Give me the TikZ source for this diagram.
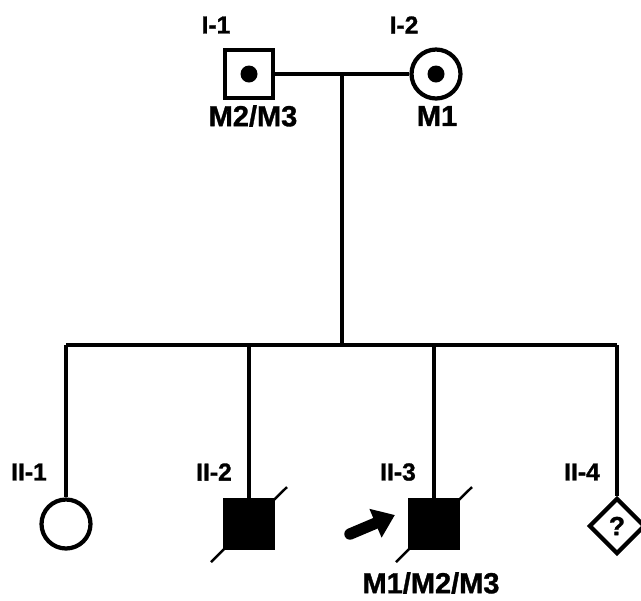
\documentclass[tikz,border=0pt]{standalone}
\usepackage{fontspec}
\setmainfont{Liberation Sans}[BoldFeatures={FakeBold=1.2}]
\usetikzlibrary{arrows.meta, positioning, calc, shapes.geometric}

\tikzset{
  line/.style={line width=2.4pt},
  male/.style={draw, line width=2.4pt, rectangle, minimum size=0.96cm, inner sep=0pt},
  female/.style={draw, line width=2.4pt, circle, minimum size=0.98cm, inner sep=0pt},
  unknownsex/.style={draw, line width=2.4pt, diamond, minimum size=1.12cm, inner sep=0pt, font=\bfseries\fontsize{15}{15}\selectfont},
  affected/.style={fill=black},
  carrierdot/.style={fill=black, circle, minimum size=0.34cm, inner sep=0pt},
  slash/.style={line width=1.4pt},
  idlabel/.style={font=\bfseries\fontsize{14}{14}\selectfont, inner sep=0pt},
  varlabel/.style={font=\bfseries\fontsize{16.5}{16.5}\selectfont, inner sep=0pt}
}

\begin{document}
\begin{tikzpicture}[x=0.02cm, y=-0.02cm]
  \useasboundingbox (0,0) rectangle (641,600);

  % generation I
  \node[male] (i1) at (249,74) {};
  \node[female] (i2) at (436,74) {};
  \node[carrierdot] (i1dot) at (i1.center) {};
  \node[carrierdot] (i2dot) at (i2.center) {};
  \node[idlabel] (i1lab) at (216,25) {I-1};
  \node[idlabel] (i2lab) at (404,25) {I-2};
  \node[varlabel] (i1var) at (253,116) {M2/M3};
  \node[varlabel] (i2var) at (437,116) {M1};

  \draw[line] (i1.east) -- (i2.west);
  \coordinate (mate) at (342,74);
  \coordinate (sib) at (342,345);
  \draw[line] (mate) -- (sib);

  % generation II
  \node[female] (ii1) at (66,524) {};
  \node[male, affected] (ii2) at (249,524) {};
  \node[male, affected] (ii3) at (434,524) {};
  \node[unknownsex] (ii4) at (617,526) {?};
  \node[idlabel] (ii1lab) at (29,472) {II-1};
  \node[idlabel] (ii2lab) at (214,472) {II-2};
  \node[idlabel] (ii3lab) at (398,472) {II-3};
  \node[idlabel] (ii4lab) at (582,472) {II-4};
  \node[varlabel] (ii3var) at (431,583) {M1/M2/M3};

  % sibship line
  \coordinate (sibl) at (ii1.north |- sib);
  \coordinate (sibr) at (ii4.north |- sib);
  \draw[line] (sibl) -- (sibr);
  \foreach \c in {ii1,ii2,ii3,ii4}
    \draw[line] (\c.north |- sib) -- (\c.north);

  % deceased
  \foreach \c in {ii2,ii3}
    \draw[slash] ([shift={(-38,38)}]\c.center) -- ([shift={(38,-37)}]\c.center);

  % proband
  \coordinate (probtail) at (350,534);
  \coordinate (probhead) at ([shift={(-13,-9)}]ii3.west);
  \draw[line width=6.5pt, line cap=round, -{Triangle[width=17pt, length=12pt]}] (probtail) -- (probhead);
\end{tikzpicture}
\end{document}
